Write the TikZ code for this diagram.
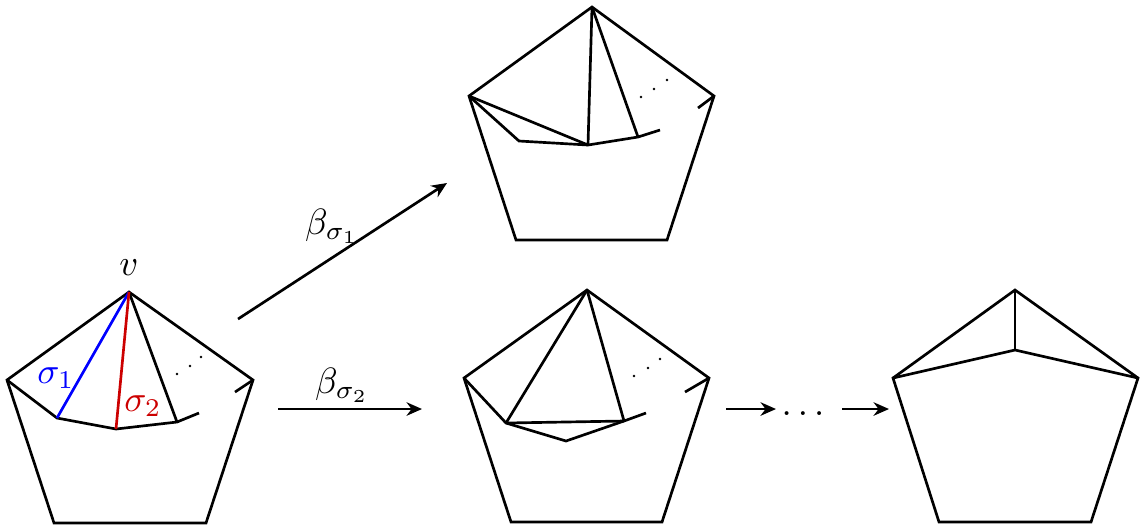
\documentclass[tikz,border=0pt]{standalone}
\usepackage{amsmath, amssymb}
\usepackage{xcolor}
\usetikzlibrary{arrows.meta,calc,positioning}
\definecolor{sigblue}{RGB}{0,0,255}
\definecolor{sigred}{RGB}{204,0,0}

\begin{document}
\begin{tikzpicture}[x=0.0125cm,y=-0.0125cm,
    every node/.style={scale=1.3},
    every path/.style={line width=0.95pt},
    mapto/.style={-{Stealth[length=5.5pt,width=4.8pt,inset=1.8pt]}}]
            \useasboundingbox (0,0) rectangle (1147,526);
            % Define points (first pentagon)
            \coordinate (v) at (129,292);
            \coordinate (L1) at (7,380);
            \coordinate (R1) at (253,380);
            \coordinate (BL1) at (54,523);
            \coordinate (BR1) at (206,523);
            \coordinate (a1) at (57,418);
            \coordinate (a2) at (116,429);
            \coordinate (a3) at (177,422);
            \coordinate (e1) at (199,413);
            \coordinate (s1) at (235,392);
            % Define points (upper pentagon)
            \coordinate (T2) at (592,7);
            \coordinate (L2) at (469,96);
            \coordinate (R2) at (714,96);
            \coordinate (BL2) at (516,240);
            \coordinate (BR2) at (667,240);
            \coordinate (b1) at (519,141);
            \coordinate (b2) at (588,145);
            \coordinate (b3) at (638,137);
            \coordinate (e2) at (660,130);
            \coordinate (s2) at (698,108);
            % Define points (lower pentagon)
            \coordinate (T3) at (587,290);
            \coordinate (L3) at (464,378);
            \coordinate (R3) at (709,378);
            \coordinate (BL3) at (511,522);
            \coordinate (BR3) at (662,522);
            \coordinate (c1) at (506,423);
            \coordinate (c2) at (566,441);
            \coordinate (c3) at (624,421);
            \coordinate (e3) at (646,413);
            \coordinate (s3) at (685,392);
            % Define points (last pentagon)
            \coordinate (T4) at (1015,290);
            \coordinate (L4) at (893,378);
            \coordinate (R4) at (1138,378);
            \coordinate (BL4) at (939,522);
            \coordinate (BR4) at (1091,522);
            \coordinate (M4) at (1015,350);
            % Define points (arrows)
            \coordinate (A1) at (238,319);
            \coordinate (B1) at (447,183);
            \coordinate (A2) at (278,409);
            \coordinate (B2) at (422,409);
            \coordinate (A3) at (726,409);
            \coordinate (B3) at (776,409);
            \coordinate (A4) at (842,409);
            \coordinate (B4) at (889,409);
            % First pentagon
            \draw (v) -- (L1) -- (BL1) -- (BR1) -- (R1) -- cycle;
            \draw (L1) -- (a1) -- (a2) -- (a3) -- (e1);
            \draw (R1) -- (s1);
            \draw (v) -- (a3);
            \draw[sigblue] (v) -- (a1);
            \draw[sigred] (v) -- (a2);
            % Upper pentagon
            \draw (T2) -- (L2) -- (BL2) -- (BR2) -- (R2) -- cycle;
            \draw (L2) -- (b1) -- (b2) -- (b3) -- (e2);
            \draw (R2) -- (s2);
            \draw (L2) -- (b2);
            \draw (T2) -- (b2);
            \draw (T2) -- (b3);
            % Lower pentagon
            \draw (T3) -- (L3) -- (BL3) -- (BR3) -- (R3) -- cycle;
            \draw (L3) -- (c1) -- (c2) -- (c3) -- (e3);
            \draw (R3) -- (s3);
            \draw (c1) -- (c3);
            \draw (T3) -- (c1);
            \draw (T3) -- (c3);
            % Last pentagon
            \draw (T4) -- (L4) -- (BL4) -- (BR4) -- (R4) -- cycle;
            \draw (L4) -- (M4) -- (R4);
            \draw (T4) -- (M4);
            % Mark points
            \foreach \p in {(177,374),(190,366),(201,357),
                            (641,97),(654,89),(667,80),
                            (634,376),(648,368),(660,359)}
                \fill \p circle (0.5pt);
            % Arrows
            \draw[mapto] (A1) -- (B1);
            \draw[mapto] (A2) -- (B2);
            \draw[mapto] (A3) -- (B3);
            \draw[mapto] (A4) -- (B4);
            % Label the elements
            \node (lv) at (129,268) {$v$};
            \node[text=sigblue] (ls1) at (56,378) {$\sigma_1$};
            \node[text=sigred] (ls2) at (143,406) {$\sigma_2$};
            \node (lb1) at (332,226) {$\beta_{\sigma_1}$};
            \node (lb2) at (342,385) {$\beta_{\sigma_2}$};
            \node (ldots) at (806,414) {$\dots$};
          \end{tikzpicture}
\end{document}
